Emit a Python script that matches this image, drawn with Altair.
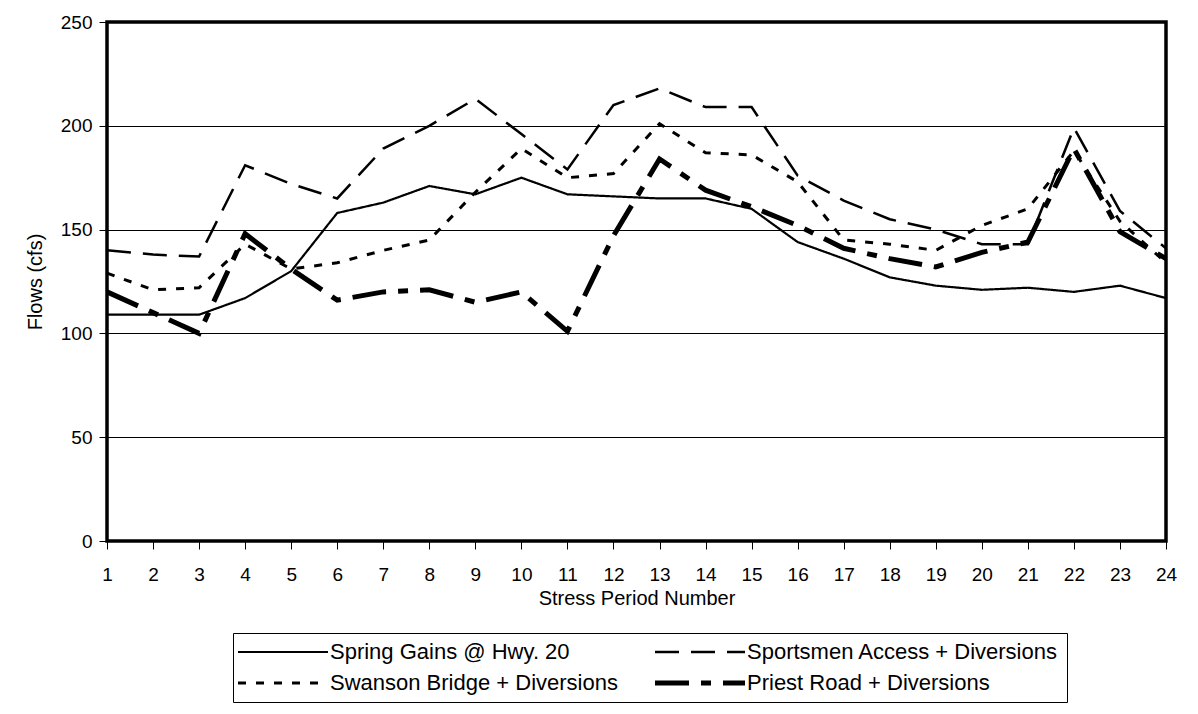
import altair as alt
import pandas as pd

periods = list(range(1, 25))
series_names = [
    "Spring Gains @ Hwy. 20",
    "Swanson Bridge + Diversions",
    "Sportsmen Access + Diversions",
    "Priest Road + Diversions",
]
spring = [109, 109, 109, 117, 130, 158, 163, 171, 167, 175, 167, 166,
          165, 165, 160, 144, 136, 127, 123, 121, 122, 120, 123, 117]
swanson = [129, 121, 122, 143, 131, 134, 140, 145, 168, 189, 175, 177,
           201, 187, 186, 173, 145, 143, 140, 152, 160, 188, 154, 134]
sportsmen = [140, 138, 137, 181, 172, 165, 189, 200, 213, 196, 179, 210,
             218, 209, 209, 176, 164, 155, 150, 143, 143, 199, 159, 141]
priest = [120, 110, 100, 148, 131, 116, 120, 121, 115, 120, 101, 147,
          184, 169, 161, 152, 141, 136, 132, 139, 144, 189, 149, 136]

rows = []
for name, vals in zip(series_names, [spring, swanson, sportsmen, priest]):
    for p, v in zip(periods, vals):
        rows.append({"series": name, "period": p, "flow": v})
df = pd.DataFrame(rows)

# styles (not data)
dash_range = [[1, 0], [8, 10], [24, 12], [34, 12, 10, 12]]
line_widths = {series_names[0]: 2.2, series_names[1]: 3,
               series_names[2]: 2.5, series_names[3]: 5}

FONT = "Liberation Sans"

# legend symbol width expression
expr = "2"
for name in series_names:
    expr = f"datum.value === '{name}' ? {line_widths[name]} : ({expr})"

base = alt.Chart(df).encode(
    x=alt.X("period:Q",
            scale=alt.Scale(domain=[1, 24], nice=False, zero=False),
            axis=alt.Axis(values=periods, title="Stress Period Number", grid=False,
                          domain=False, tickColor="black", tickSize=8, labelPadding=16,
                          labelFlush=False, labelFontSize=19, labelColor="black",
                          titleFontSize=20, titleFontWeight="normal", titleColor="black",
                          titlePadding=4, labelFont=FONT, titleFont=FONT)),
    y=alt.Y("flow:Q",
            scale=alt.Scale(domain=[0, 250], nice=False),
            axis=alt.Axis(values=[0, 50, 100, 150, 200, 250], title="Flows (cfs)",
                          grid=True, gridColor="black", gridWidth=1, gridOpacity=1,
                          domain=False, tickColor="black", tickSize=8, labelPadding=7,
                          labelFontSize=19, labelColor="black", titleFontSize=20,
                          titleFontWeight="normal", titleColor="black", titlePadding=15,
                          labelFont=FONT, titleFont=FONT)),
    strokeDash=alt.StrokeDash(
        "series:N",
        scale=alt.Scale(domain=series_names, range=dash_range),
        legend=alt.Legend(
            title=None, orient="none", legendX=126, legendY=611, columns=2,
            direction="vertical",
            symbolType="M0,0H6", symbolSize=900, symbolOffset=-14,
            symbolStrokeColor="black", symbolFillColor="transparent",
            symbolStrokeWidth=alt.ExprRef(expr=expr),
            labelOffset=81, labelFontSize=22, labelFont=FONT, labelColor="black",
            labelLimit=500, columnPadding=27, rowPadding=9, padding=8,
            strokeColor="black", fillColor="white",
        )),
    order="period:Q",
)

layers = [
    base.transform_filter(alt.datum.series == name).mark_line(
        color="black", strokeCap="butt", strokeWidth=line_widths[name])
    for name in series_names
]

chart = alt.layer(*layers).properties(
    width=1059,
    height=519,
    autosize=alt.AutoSizeParams(type="none"),
    padding={"left": 99, "top": 14, "right": 22, "bottom": 172},
    background="white",
).configure_view(
    stroke="black",
    strokeWidth=3.5,
)

chart.save("out.html", embed_options={"renderer": "svg", "actions": False})
